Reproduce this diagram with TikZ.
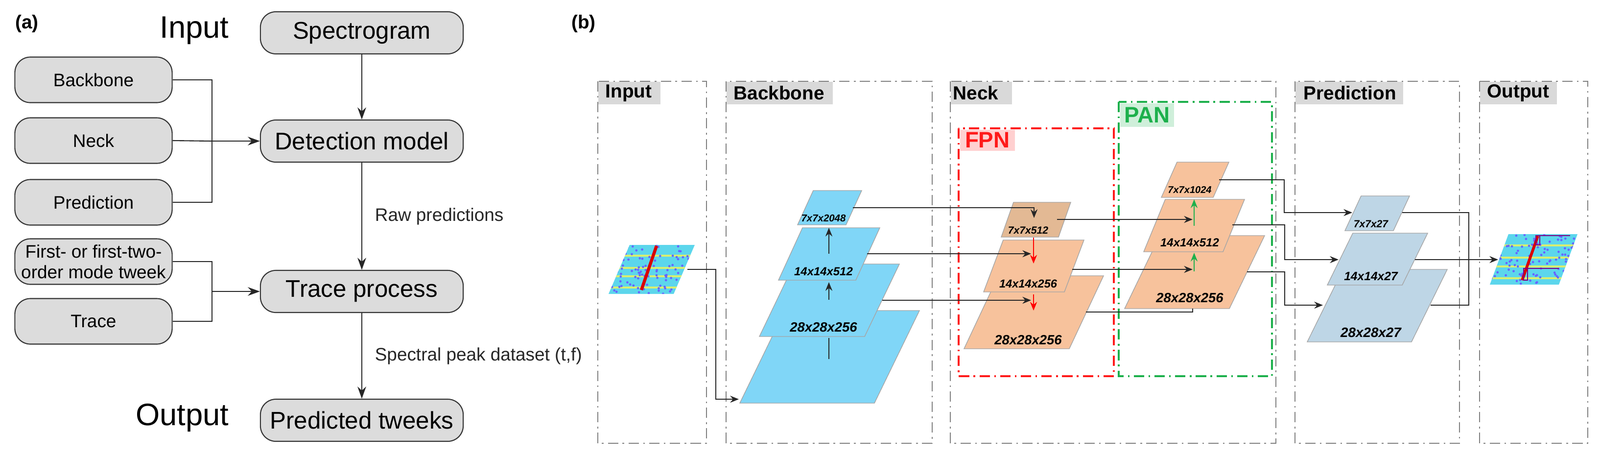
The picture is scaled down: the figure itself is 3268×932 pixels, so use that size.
\documentclass[tikz,border=0pt]{standalone}
\usepackage{fontspec}
\setmainfont{Liberation Sans}
\usetikzlibrary{arrows.meta}
\definecolor{boxgray}{HTML}{DCDCDC}
\definecolor{labgray}{HTML}{D9D9D9}
\definecolor{bbblue}{HTML}{80D6F7}
\definecolor{nkorange}{HTML}{F7C29C}
\definecolor{nktan}{HTML}{E3B994}
\definecolor{prblue}{HTML}{BED6E6}
\definecolor{fpnred}{HTML}{FF1A1A}
\definecolor{fpnbg}{HTML}{FFD0D0}
\definecolor{pangreen}{HTML}{1DB04C}
\definecolor{panbg}{HTML}{CFEFDA}
\definecolor{specbg}{HTML}{5CD6EC}
\definecolor{specyel}{HTML}{D8EE70}
\newcommand\plg[6]{\path[#6] (#1,#2) -- (#3,#2) -- ({#3+#4},#5) -- ({#1+#4},#5) -- cycle;}
\newcommand\specimg[5]{%
  \begin{scope}
  \clip (#1,#2) -- (#3,#2) -- ({#3+#4},#5) -- ({#1+#4},#5) -- cycle;
  \fill[specbg] (#1-10,#5-10) rectangle ({#3+#4+10},#2+10);
  \foreach \k in {0.2,0.45,0.62,0.85}{
    \fill[specyel] (#1-10,{#5+(#2-#5)*\k}) rectangle ({#3+#4+10},{#5+(#2-#5)*\k+4});}
  \foreach \i in {1,...,110}{
    \pgfmathsetmacro\px{#1+rnd*(#3+#4-#1)}\pgfmathsetmacro\py{#5+rnd*(#2-#5)}
    \fill[blue!60] (\px,\py) circle (2.4);}
  \end{scope}}
\tikzset{
  abox/.style={draw=black!80, line width=0.6pt, fill=boxgray, rounded corners=9pt, minimum width=4.14cm, minimum height=0.86cm, font=\fontsize{14}{16}\selectfont},
  sbox/.style={draw=black!80, line width=0.6pt, fill=boxgray, rounded corners=9pt, minimum width=3.21cm, minimum height=0.93cm, font=\fontsize{10.5}{12}\selectfont, align=center},
  aline/.style={line width=0.6pt, black!85},
  aarr/.style={aline, -{Stealth[length=7pt,width=5pt]}},
  panel/.style={draw=black!50, line width=0.6pt, dash pattern=on 6pt off 2.5pt on 1pt off 2.5pt},
  plab/.style={fill=labgray, font=\bfseries\fontsize{11}{13}\selectfont, anchor=north west, inner xsep=0pt, inner ysep=0pt, minimum height=0.46cm, align=left},
  lay/.style={font=\bfseries\itshape\fontsize{#1}{#1}\selectfont, inner sep=0pt},
  bl/.style={line width=0.8pt, black!85},
  barr/.style={bl, -{Stealth[length=5pt,width=4pt]}},
  pg/.style={fill=#1, draw=black!35, line width=0.4pt}
}
\begin{document}
\begin{tikzpicture}[x=0.01cm,y=-0.01cm]
\useasboundingbox (0,0) rectangle (3268,932);
% ---------------- (a) ----------------
\node[font=\bfseries\fontsize{11}{13}\selectfont] (la) at (55,48) {(a)};
\node[font=\fontsize{18}{20}\selectfont, anchor=east] (tin) at (480,62) {Input};
\node[font=\fontsize{18}{20}\selectfont, anchor=east] (tout) at (480,853) {Output};
\node[abox] (spec) at (739,67) {Spectrogram};
\node[abox] (det) at (739,288) {Detection model};
\node[abox] (trace) at (739,595) {Trace process};
\node[abox] (pred) at (739,858) {Predicted tweeks};
\node[sbox] (bb) at (191,163) {Backbone};
\node[sbox] (nk) at (191,287) {Neck};
\node[sbox] (pr) at (191,413) {Prediction};
\node[sbox, inner sep=1pt] (fo) at (191,534) {First- or first-two-\\order mode tweek};
\node[sbox] (tr) at (191,656) {Trace};
\coordinate (j1) at (433,288);
\coordinate (j2) at (433,595);
\draw[aline] (bb.east) -| (j1) |- (pr.east);
\draw[aline] (nk.east) -- (j1);
\draw[aarr] (j1) -- (det.west);
\draw[aline] (fo.east) -| (j2) |- (tr.east);
\draw[aarr] (j2) -- (trace.west);
\draw[aarr] (spec) -- (det);
\draw[aarr] (det) -- node[right, xshift=4pt, font=\fontsize{10.5}{12}\selectfont] (rawlab) {Raw predictions} (trace);
\draw[aarr] (trace) -- node[right, xshift=4pt, font=\fontsize{10.5}{12}\selectfont] (speclab) {Spectral peak dataset (t,f)} (pred);
% ---------------- (b) ----------------
\node[font=\bfseries\fontsize{11}{13}\selectfont] (lb) at (1192,48) {(b)};
\draw[panel] (1221,166) rectangle (1443,905);
\draw[panel] (1483,166) rectangle (1904,905);
\draw[panel] (1941,166) rectangle (2606,905);
\draw[panel] (2645,166) rectangle (2981,905);
\draw[panel] (3022,166) rectangle (3243,905);
\node[plab, text width=1.27cm] (tinput) at (1221,166) {\hspace{0.15cm}Input};
\node[plab, text width=2.17cm] (tbb) at (1483,166) {\hspace{0.15cm}Backbone};
\node[plab, text width=1.25cm] (tneck) at (1941,166) {\hspace{0.05cm}Neck};
\node[plab, text width=2.2cm] (tpred) at (2645,166) {\hspace{0.17cm}Prediction};
\node[plab, text width=1.57cm] (tout2) at (3022,166) {\hspace{0.15cm}Output};
\draw[draw=fpnred, line width=0.9pt, dash pattern=on 6pt off 2.5pt on 1pt off 2.5pt] (1958,262) rectangle (2275,768);
\draw[draw=pangreen, line width=0.9pt, dash pattern=on 6pt off 2.5pt on 1pt off 2.5pt] (2285,208) rectangle (2598,768);
\node[fill=fpnbg, text=fpnred, font=\bfseries\fontsize{13}{15}\selectfont, anchor=north west, minimum width=1.12cm, minimum height=0.43cm, inner sep=0pt] (tfpn) at (1960,264) {FPN};
\node[fill=panbg, text=pangreen, font=\bfseries\fontsize{13}{15}\selectfont, anchor=north west, minimum width=1.1cm, minimum height=0.48cm, inner sep=0pt] (tpan) at (2287,210) {PAN};
% input & output images
\specimg{1243}{600}{1376}{43}{500}
\draw[red!85!black, line width=1.8pt] (1341,502) -- (1310,592);
\specimg{3043}{581}{3184}{38}{478}
\draw[red!85!black, line width=1.6pt] (3141,482) -- (3109,572);
\draw[violet, line width=0.6pt] (3139,481) -- (3207,481) (3137,481) rectangle (3145,500);
\draw[violet, line width=0.6pt] (3118,548) -- (3184,548) (3112,548) rectangle (3120,572);
% backbone
\plg{1511}{823}{1786}{92}{634}{pg=bbblue}
\plg{1551}{687}{1766}{71}{539}{pg=bbblue}
\plg{1590}{572}{1748}{49}{465}{pg=bbblue}
\plg{1629}{459}{1728}{32}{389}{pg=bbblue}
\node[lay=7.8] (b1) at (1682,668) {28x28x256};
\node[lay=6.8] (b2) at (1682,554) {14x14x512};
\node[lay=5.8] (b3) at (1682,445) {7x7x2048};
% FPN
\plg{1969}{712}{2184}{70}{563}{pg=nkorange}
\plg{2009}{596}{2174}{40}{490}{pg=nkorange}
\plg{2045}{484}{2162}{25}{413}{pg=nktan}
\node[lay=7.8] (f1) at (2100,694) {28x28x256};
\node[lay=6.7] (f2) at (2100,579) {14x14x256};
\node[lay=6] (f3) at (2100,470) {7x7x512};
% PAN
\plg{2297}{630}{2511}{72}{481}{pg=nkorange}
\plg{2336}{514}{2498}{44}{407}{pg=nkorange}
\plg{2372}{403}{2478}{32}{331}{pg=nkorange}
\node[lay=7.8] (q1) at (2430,608) {28x28x256};
\node[lay=6.8] (q2) at (2430,495) {14x14x512};
\node[lay=5.7] (q3) at (2430,388) {7x7x1024};
% Prediction
\plg{2670}{698}{2883}{73}{550}{pg=prblue}
\plg{2711}{582}{2864}{52}{476}{pg=prblue}
\plg{2747}{471}{2846}{33}{400}{pg=prblue}
\node[lay=7.9] (r1) at (2800,679) {28x28x27};
\node[lay=7] (r2) at (2800,564) {14x14x27};
\node[lay=6] (r3) at (2800,457) {7x7x27};
% coordinates
\coordinate (inR) at (1404,550);
\coordinate (bbIn) at (1509,815);
\coordinate (p4R) at (1742,424);
\coordinate (p3R) at (1771,518);
\coordinate (p2R) at (1802,613);
\coordinate (f1Top) at (2112,445);
\coordinate (f2In) at (2106,518);
\coordinate (f3In) at (2106,613);
\coordinate (f1R) at (2159,448);
\coordinate (f2R) at (2190,550);
\coordinate (f3R) at (2218,637);
\coordinate (q2In) at (2436,448);
\coordinate (q3In) at (2436,550);
\coordinate (q3Bot) at (2436,630);
\coordinate (q1R) at (2490,367);
\coordinate (q2R) at (2517,459);
\coordinate (q3R) at (2547,555);
\coordinate (r1In) at (2762,434);
\coordinate (r2In) at (2734,530);
\coordinate (r3In) at (2702,623);
\coordinate (r1R) at (2864,434);
\coordinate (r2R) at (2890,530);
\coordinate (r3R) at (2922,623);
\coordinate (outIn) at (3060,530);
% connectors
\draw[barr] (inR) -| (1462,815) -- (bbIn);
\draw[bl] (1693,733) -- (1693,690);
\draw[barr] (1693,612) -- (1693,576);
\draw[barr] (1693,518) -- (1693,465);
\draw[barr] (p4R) -| (f1Top);
\draw[barr] (p3R) -- (f2In);
\draw[barr] (p2R) -- (f3In);
\draw[red, line width=0.8pt, -{Stealth[length=5pt,width=4pt]}] (2111,485) -- (2111,538);
\draw[red, line width=0.8pt, -{Stealth[length=5pt,width=4pt]}] (2111,601) -- (2111,634);
\draw[barr] (f1R) -- (q2In);
\draw[barr] (f2R) -- (q3In);
\draw[bl] (f3R) -| (q3Bot);
\draw[pangreen, line width=0.8pt, -{Stealth[length=5pt,width=4pt]}] (2439,461) -- (2439,407);
\draw[pangreen, line width=0.8pt, -{Stealth[length=5pt,width=4pt]}] (2439,554) -- (2439,516);
\draw[barr] (q1R) -| (2623,434) -- (r1In);
\draw[barr] (q2R) -| (2624,530) -- (r2In);
\draw[barr] (q3R) -| (2624,623) -- (r3In);
\draw[bl] (r1R) -| (3000,623) -- (r3R);
\draw[barr] (r2R) -- (outIn);
\end{tikzpicture}
\end{document}
